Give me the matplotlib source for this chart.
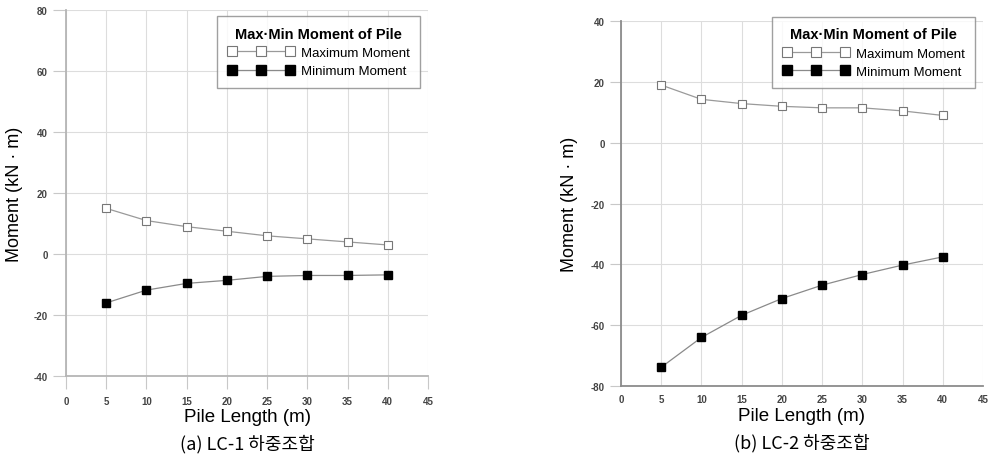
import numpy as np
import matplotlib
matplotlib.use("Agg")
import matplotlib.pyplot as plt

plt.rcParams['font.family'] = ['Liberation Sans', 'Noto Sans CJK KR', 'DejaVu Sans']
plt.rcParams['axes.unicode_minus'] = False

# ----- data -----
pile_length = [5, 10, 15, 20, 25, 30, 35, 40]

lc1_max = [15.0, 11.0, 9.0, 7.5, 6.0, 5.0, 4.0, 3.0]
lc1_min = [-16.0, -11.8, -9.6, -8.6, -7.3, -7.0, -7.0, -6.8]

lc2_max = [19.0, 14.3, 12.9, 12.0, 11.5, 11.5, 10.5, 9.0]
lc2_min = [-73.8, -64.0, -56.7, -51.2, -46.8, -43.3, -40.2, -37.5]

captions = ["(a) LC-1 하중조합", "(b) LC-2 하중조합"]
ylims = [(-40, 80), (-80, 40)]
legend_title = "Max·Min Moment of Pile"
# ---------------------------------------

fig = plt.figure(figsize=(9.88, 4.56), dpi=100)
ax1 = fig.add_axes([0.0668, 0.173, 0.3664, 0.8026])
ax2 = fig.add_axes([0.6285, 0.151, 0.3664, 0.8004])

panels = [(ax1, lc1_max, lc1_min), (ax2, lc2_max, lc2_min)]
# per-panel layout knobs: spine colour, y tick length, x tick length, x pad,
# xlabel y (axes frac), caption y (fig frac), legend top (axes frac)
style = [
    dict(spine="#b5b5b5", ytl=9.5, xtl=9.0, xpad=5.0, xlab=-0.088, cap=0.026,
         legtop=0.983),
    dict(spine="#8c8c8c", ytl=8.0, xtl=0.0, xpad=6.0, xlab=-0.056, cap=0.029,
         legtop=1.012),
]

for i, (ax, ymax, ymin) in enumerate(panels):
    st = style[i]
    ax.plot(pile_length, ymax, color="#9a9a9a", lw=0.9, marker="s", ms=5.5,
            mfc="white", mec="#777777", mew=0.8, label="Maximum Moment")
    ax.plot(pile_length, ymin, color="#8a8a8a", lw=0.9, marker="s", ms=5.5,
            mfc="black", mec="black", label="Minimum Moment")

    ax.set_xlim(0, 45)
    ax.set_ylim(*ylims[i])
    ax.set_xticks(np.arange(0, 46, 5))
    ax.set_yticks(np.arange(ylims[i][0], ylims[i][1] + 1, 20))
    ax.grid(True, color="#dddddd", lw=0.8)
    ax.set_axisbelow(True)
    for s in ["top", "right"]:
        ax.spines[s].set_visible(False)
    for s in ["left", "bottom"]:
        ax.spines[s].set_color(st["spine"])
        ax.spines[s].set_linewidth(1.3)
    ax.tick_params(axis="both", labelsize=7, labelcolor="#444444",
                   color="#c8c8c8", width=0.8)
    ax.tick_params(axis="y", length=st["ytl"], pad=3.5)
    ax.tick_params(axis="x", length=st["xtl"], pad=st["xpad"])
    for lab in ax.get_xticklabels() + ax.get_yticklabels():
        lab.set_fontweight("bold")

    ax.set_ylabel("Moment (kN · m)", fontsize=13, va="center")
    ax.yaxis.set_label_coords(-0.141, 0.5)
    ax.set_xlabel("Pile Length (m)", fontsize=13.5)
    ax.xaxis.set_label_coords(0.5, st["xlab"])
    fig.text(ax.get_position().x0 + ax.get_position().width / 2, st["cap"],
             captions[i], ha="center", va="center", fontsize=13,
             family=["Noto Sans CJK KR", "DejaVu Sans"])

    leg = ax.legend(loc="upper right", bbox_to_anchor=(0.978, st["legtop"]),
                    borderaxespad=0.0, numpoints=3, fontsize=9.5,
                    title=legend_title,
                    title_fontproperties={"weight": "bold", "size": 10.5},
                    frameon=True, fancybox=False, handlelength=5.0,
                    handletextpad=0.5, borderpad=0.8, labelspacing=0.45,
                    markerscale=1.25)
    leg.get_frame().set_edgecolor("#888888")
    leg.get_frame().set_linewidth(1.0)

fig.savefig("out.png", dpi=100)
